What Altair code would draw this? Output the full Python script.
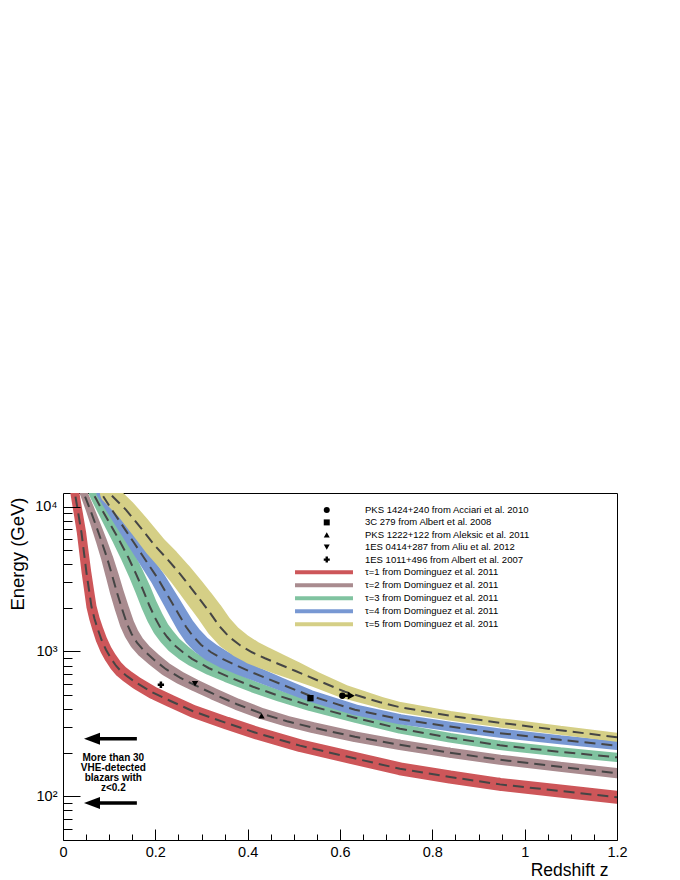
import altair as alt
import pandas as pd

FONT = "Liberation Sans"

# ---------------- axis ticks / labels ----------------
X_MAJOR = [0, 0.2, 0.4, 0.6, 0.8, 1, 1.2]
X_MINOR = [0.05, 0.1, 0.15, 0.25, 0.3, 0.35, 0.45, 0.5, 0.55, 0.65, 0.7, 0.75,
           0.85, 0.9, 0.95, 1.05, 1.1, 1.15]
Y_MAJOR = [100, 1000, 10000]
Y_MAJOR_LABELS = ["10²", "10³", "10⁴"]
Y_MINOR = [60, 70, 80, 90, 200, 300, 400, 500, 600, 700, 800, 900,
           2000, 3000, 4000, 5000, 6000, 7000, 8000, 9000]

# ---------------- bands (tau = 1..5): centre energy and band width (dex) ----------------
BAND_LABELS = ["τ=1 from Dominguez et al. 2011", "τ=2 from Dominguez et al. 2011",
               "τ=3 from Dominguez et al. 2011", "τ=4 from Dominguez et al. 2011",
               "τ=5 from Dominguez et al. 2011"]
BAND_COLORS = ["#cd5659", "#a98b8f", "#80c3a0", "#7898d3", "#d5cf86"]

TAU1_Z = [0.0217, 0.026, 0.0329, 0.0401, 0.0455, 0.0509, 0.0563, 0.0617, 0.0682, 0.0758,
          0.0834, 0.0931, 0.1029, 0.1148, 0.1256, 0.1386, 0.1603, 0.1949, 0.2318, 0.2816,
          0.3552, 0.4202, 0.5133, 0.6216, 0.7299, 0.8382, 0.9465, 1.0765, 1.2]
TAU1_E = [15280, 12233, 9048, 6585, 4795, 3489, 2664, 2034, 1681, 1411,
          1204, 1027, 905, 797, 730, 675, 604, 519, 457, 387,
          320, 273, 224, 186, 155, 136, 121, 109, 98.7]
TAU1_W = [0.062, 0.062, 0.063, 0.064, 0.065, 0.067, 0.068, 0.07, 0.072, 0.075,
          0.078, 0.08, 0.082, 0.084, 0.086, 0.087, 0.088, 0.088, 0.088, 0.088,
          0.088, 0.088, 0.088, 0.088, 0.089, 0.09, 0.09, 0.09, 0.09]

TAU2_Z = [0.0422, 0.0455, 0.0574, 0.0693, 0.0823, 0.0953, 0.1061, 0.117, 0.1278, 0.1386,
          0.1484, 0.1603, 0.1754, 0.1971, 0.2231, 0.2534, 0.2859, 0.3249, 0.3769, 0.431,
          0.4852, 0.5415, 0.6324, 0.7299, 0.8382, 0.9465, 1.0765, 1.2]
TAU2_E = [15280, 12233, 9796, 7720, 5893, 4429, 3381, 2540, 1970, 1553,
          1325, 1148, 1011, 877, 754, 659, 585, 511, 432, 372,
          330, 298, 258, 227, 200, 179, 160, 144.5]
TAU2_W = [0.055, 0.055, 0.06, 0.067, 0.075, 0.083, 0.09, 0.095, 0.098, 0.1,
          0.1, 0.1, 0.098, 0.095, 0.092, 0.088, 0.085, 0.082, 0.08, 0.078,
          0.076, 0.075, 0.073, 0.072, 0.071, 0.07, 0.07, 0.07]

TAU3_Z = [0.0606, 0.0656, 0.0845, 0.1018, 0.1213, 0.1408, 0.1581, 0.1733, 0.1863, 0.1993,
          0.2123, 0.2253, 0.2404, 0.2599, 0.2794, 0.3162, 0.3552, 0.4115, 0.47, 0.535,
          0.6324, 0.7299, 0.8382, 0.9465, 1.0765, 1.2]
TAU3_E = [15280, 12233, 9489, 7598, 5893, 4499, 3434, 2664, 2100, 1708,
          1434, 1263, 1112, 987, 890, 766, 675, 571, 491, 422,
          349, 293, 254, 225, 203, 186]
TAU3_W = [0.06, 0.06, 0.07, 0.08, 0.09, 0.1, 0.105, 0.11, 0.112, 0.115,
          0.115, 0.115, 0.112, 0.108, 0.1, 0.092, 0.085, 0.08, 0.076, 0.072,
          0.069, 0.067, 0.066, 0.065, 0.064, 0.064]

TAU4_Z = [0.078, 0.0838, 0.1018, 0.1191, 0.1365, 0.1538, 0.1711, 0.1884, 0.2058, 0.2209,
          0.2361, 0.2512, 0.2664, 0.2816, 0.2989, 0.3206, 0.3465, 0.379, 0.4115, 0.47,
          0.535, 0.6324, 0.7299, 0.8382, 0.9465, 1.0765, 1.2]
TAU4_E = [15280, 12233, 9952, 8226, 6799, 5620, 4645, 3839, 3173, 2622,
          2167, 1791, 1481, 1273, 1112, 987, 884, 791, 713, 599,
          495, 396, 341, 303, 273, 246, 224]
TAU4_W = [0.07, 0.07, 0.075, 0.08, 0.085, 0.09, 0.095, 0.1, 0.105, 0.11,
          0.115, 0.12, 0.125, 0.13, 0.13, 0.128, 0.122, 0.112, 0.1, 0.09,
          0.08, 0.075, 0.07, 0.066, 0.064, 0.062, 0.062]

TAU5_Z = [0.0953, 0.1018, 0.1365, 0.1668, 0.1993, 0.2274, 0.2534, 0.2772, 0.2989, 0.3184,
          0.3379, 0.3595, 0.3834, 0.4094, 0.4375, 0.4657, 0.5025, 0.5458, 0.6108, 0.6866,
          0.7299, 0.8382, 0.9465, 1.0765, 1.2]
TAU5_E = [15280, 12233, 9489, 7244, 5357, 4290, 3434, 2750, 2237, 1849,
          1504, 1263, 1104, 987, 898, 823, 736, 643, 527, 446,
          412, 360, 322, 286, 256]
TAU5_W = [0.135, 0.135, 0.14, 0.148, 0.155, 0.162, 0.168, 0.174, 0.178, 0.18,
          0.18, 0.178, 0.172, 0.165, 0.155, 0.145, 0.13, 0.11, 0.095, 0.08,
          0.072, 0.067, 0.064, 0.063, 0.062]

# ---------------- measured sources ----------------
MARKER_LABELS = ["PKS 1424+240 from Acciari et al. 2010",
                 "3C 279 from Albert et al. 2008",
                 "PKS 1222+122 from Aleksic et al. 2011",
                 "1ES 0414+287 from Aliu et al. 2012",
                 "1ES 1011+496 from Albert et al. 2007"]
MARKER_SHAPES = ["circle", "square", "triangle-up", "triangle-down", "cross"]
MARKER_Z = [0.605, 0.536, 0.430, 0.286, 0.212]
MARKER_E = [495, 476, 360, 599, 589]

# lower limit on the redshift of PKS 1424+240
LIMIT_Z = [0.605]
LIMIT_Z_SHAFT_END = [0.625]
LIMIT_Z_TIP = [0.632]
LIMIT_E = [495]

# "more than 30 blazars" arrows and note
BLAZAR_E = [250, 90]
BLAZAR_TIP = [0.0455, 0.0455]
BLAZAR_SHAFT = [0.067, 0.067]
BLAZAR_TAIL = [0.160, 0.160]
NOTE_TEXT = ["More than 30\nVHE-detected\nblazars with\nz<0.2"]
NOTE_Z = [0.109]
NOTE_E = [185]

# ---------------- tables ----------------
rows = []
for lab, zs, es, ws in zip(BAND_LABELS,
                           [TAU1_Z, TAU2_Z, TAU3_Z, TAU4_Z, TAU5_Z],
                           [TAU1_E, TAU2_E, TAU3_E, TAU4_E, TAU5_E],
                           [TAU1_W, TAU2_W, TAU3_W, TAU4_W, TAU5_W]):
    for z, e, w in zip(zs, es, ws):
        rows.append({"series": lab, "z": z, "E": e, "w": w})
band_df = pd.DataFrame(rows)

marker_df = pd.DataFrame({"label": MARKER_LABELS, "z": MARKER_Z, "E": MARKER_E})
limit_df = pd.DataFrame({"z": LIMIT_Z, "z2": LIMIT_Z_SHAFT_END, "tip": LIMIT_Z_TIP, "E": LIMIT_E})
blazar_df = pd.DataFrame({"E": BLAZAR_E, "tip": BLAZAR_TIP, "z": BLAZAR_SHAFT, "z2": BLAZAR_TAIL})
note_df = pd.DataFrame({"text": NOTE_TEXT, "z": NOTE_Z, "E": NOTE_E})

# ---------------- scales & axes ----------------
xs = alt.Scale(domain=[0, 1.2], nice=False, zero=False)
ys = alt.Scale(type="log", domain=[50, 12400], nice=False)
cscale = alt.Scale(domain=BAND_LABELS, range=BAND_COLORS)

label_expr = "".join(f"datum.value == {v} ? '{l}' : " for v, l in zip(Y_MAJOR, Y_MAJOR_LABELS)) + "''"

ax_x_labels = alt.Axis(orient="bottom", values=X_MAJOR, format="~g", ticks=False, tickSize=0,
                       domain=False, grid=False, labelFlush=False, labelOverlap=False,
                       labelPadding=5, labelFont=FONT, labelFontSize=14.5, labelColor="black",
                       title="Redshift z", titleFont=FONT, titleFontSize=17.5,
                       titleFontWeight="normal", titleColor="black", titleX=545, titleY=35.5,
                       titleAlign="right", titleBaseline="alphabetic")
ax_y_labels = alt.Axis(orient="left", values=Y_MAJOR, labelExpr=label_expr, ticks=False, tickSize=0,
                       domain=False, grid=False, labelFlush=False, labelOverlap=False,
                       labelPadding=6, labelFont=FONT, labelFontSize=14.5, labelColor="black",
                       labelBaseline="middle",
                       title="Energy (GeV)", titleFont=FONT, titleFontSize=18.5,
                       titleFontWeight="normal", titleColor="black", titleAngle=270,
                       titleX=-46, titleY=4, titleAlign="right", titleBaseline="middle")


def tick_axis(orient, values, size):
    return alt.Axis(orient=orient, values=values, labels=False, domain=False, grid=False,
                    ticks=True, tickSize=size, offset=-size, tickColor="black", tickWidth=1,
                    title=None, zindex=1)


ax_x_major = tick_axis("bottom", X_MAJOR, 11)
ax_x_minor = tick_axis("bottom", X_MINOR, 6)
ax_y_major = tick_axis("left", Y_MAJOR, 17)
ax_y_minor = tick_axis("left", Y_MINOR, 9)

marker_legend = alt.Legend(orient="none", legendX=259, legendY=12.25, title=None, padding=0,
                           offset=0, labelFont=FONT, labelFontSize=9.5, labelColor="black",
                           labelOffset=33.5, rowPadding=1.4, symbolSize=36,
                           symbolFillColor="black", symbolStrokeWidth=0, symbolOpacity=1,
                           labelLimit=400)
band_legend = alt.Legend(orient="none", legendX=256, legendY=74.3, title=None, padding=0,
                         offset=0, labelFont=FONT, labelFontSize=9.5, labelColor="black",
                         labelOffset=36, rowPadding=-3.3,
                         symbolType="M-10,0H10",
                         symbolSize=33.6, symbolStrokeWidth=4, symbolOpacity=1,
                         labelLimit=400)

# ---------------- layers ----------------
bands = alt.Chart(band_df).mark_trail(clip=True).encode(
    x=alt.X("z:Q", scale=xs, axis=ax_x_labels),
    y=alt.Y("E:Q", scale=ys, axis=ax_y_labels),
    color=alt.Color("series:N", scale=cscale, legend=band_legend),
    size=alt.Size("w:Q", scale=alt.Scale(domain=[0, 0.2], range=[0, 29]), legend=None),
    order=alt.Order("z:Q"),
)

dashed = alt.Chart(band_df).mark_line(clip=True, color="#454545", strokeWidth=2,
                                      strokeDash=[11, 6]).encode(
    x=alt.X("z:Q", scale=xs, axis=ax_x_major),
    y=alt.Y("E:Q", scale=ys, axis=ax_y_major),
    detail="series:N",
    order=alt.Order("z:Q"),
)

markers = alt.Chart(marker_df).mark_point(filled=True, opacity=1, size=40, color="black",
                                          clip=True).encode(
    x=alt.X("z:Q", scale=xs, axis=ax_x_minor),
    y=alt.Y("E:Q", scale=ys, axis=ax_y_minor),
    shape=alt.Shape("label:N", scale=alt.Scale(domain=MARKER_LABELS, range=MARKER_SHAPES),
                    legend=marker_legend),
)

blazar_shafts = alt.Chart(blazar_df).mark_rule(color="black", strokeWidth=3.5).encode(
    x=alt.X("z:Q", scale=xs, axis=None), x2="z2:Q",
    y=alt.Y("E:Q", scale=ys, axis=None),
)
blazar_heads = alt.Chart(blazar_df).mark_point(shape="M0,0L2,-0.75L2,0.75Z", size=256,
                                               filled=True, opacity=1, color="black").encode(
    x=alt.X("tip:Q", scale=xs, axis=None),
    y=alt.Y("E:Q", scale=ys, axis=None),
)
note = alt.Chart(note_df).mark_text(font=FONT, fontWeight="bold", fontSize=10, lineHeight=10.2,
                                    align="center", baseline="middle", color="black",
                                    lineBreak="\n").encode(
    x=alt.X("z:Q", scale=xs, axis=None),
    y=alt.Y("E:Q", scale=ys, axis=None),
    text="text:N",
)
limit_shaft = alt.Chart(limit_df).mark_rule(color="black", strokeWidth=2.5).encode(
    x=alt.X("z:Q", scale=xs, axis=None), x2="z2:Q",
    y=alt.Y("E:Q", scale=ys, axis=None),
)
limit_head = alt.Chart(limit_df).mark_point(shape="M0,0L-2,-1.1L-2,1.1Z", size=49,
                                            filled=True, opacity=1, color="black").encode(
    x=alt.X("tip:Q", scale=xs, axis=None),
    y=alt.Y("E:Q", scale=ys, axis=None),
)

chart = alt.layer(
    bands, dashed, markers, blazar_shafts, blazar_heads, note, limit_shaft, limit_head,
).resolve_axis(x="independent", y="independent").properties(
    width=554, height=347,
    padding={"left": 55, "top": 485, "right": 50, "bottom": 39},
    autosize=alt.AutoSizeParams(type="none"),
).configure_view(stroke="black", strokeWidth=1)

chart.save("out.html", embed_options={"renderer": "svg", "actions": False})
